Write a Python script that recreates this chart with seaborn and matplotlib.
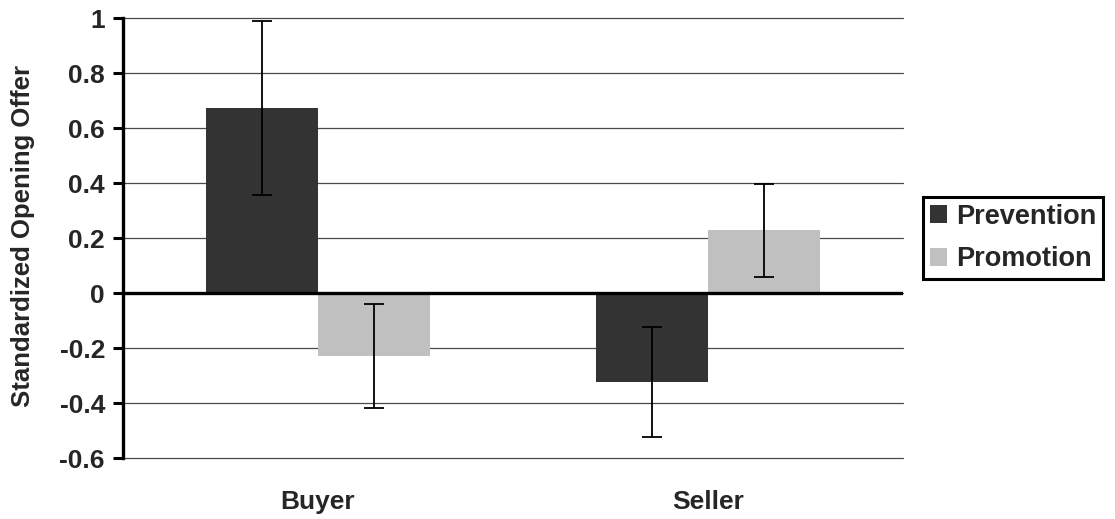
import matplotlib
matplotlib.use("Agg")
import matplotlib.pyplot as plt
import seaborn as sns
import pandas as pd
from matplotlib.ticker import FixedLocator, FuncFormatter

# ---- data ----
categories = ["Buyer", "Seller"]
conditions = ["Prevention", "Promotion"]
prevention_means = [0.673, -0.325]
promotion_means = [-0.228, 0.228]
prevention_err = [0.316, 0.200]
promotion_err = [0.189, 0.170]
y_ticks = [-0.6, -0.4, -0.2, 0, 0.2, 0.4, 0.6, 0.8, 1]
y_label = "Standardized Opening Offer"

sns.set_style("white")
plt.rcParams["font.family"] = ["Liberation Sans", "DejaVu Sans"]
plt.rcParams["font.weight"] = "bold"
plt.rcParams["axes.unicode_minus"] = False

df = pd.DataFrame({
    "role": categories * 2,
    "focus": [conditions[0]] * len(categories) + [conditions[1]] * len(categories),
    "value": prevention_means + promotion_means,
})
errs = {conditions[0]: prevention_err, conditions[1]: promotion_err}
palette = {conditions[0]: "#333333", conditions[1]: "#C0C0C0"}

fig = plt.figure(figsize=(11.15, 5.19), dpi=100)
ax = fig.add_axes([123 / 1115, 1 - 458 / 519, 780 / 1115, 440 / 519])

sns.barplot(data=df, x="role", y="value", hue="focus", hue_order=conditions,
            order=categories, palette=palette, saturation=1, width=0.574,
            errorbar=None, ax=ax, zorder=2, edgecolor="none", linewidth=0)

# error bars
for cont, cond in zip(ax.containers, conditions):
    for bar, e in zip(cont, errs[cond]):
        x = bar.get_x() + bar.get_width() / 2
        y = bar.get_y() + bar.get_height()
        ax.errorbar(x, y, yerr=e, fmt="none", ecolor="black", elinewidth=1.3,
                    capsize=7, capthick=1.3, zorder=4)

ax.set_xlim(-0.5, 1.5)
ax.set_ylim(-0.6, 1.0)
ax.yaxis.set_major_locator(FixedLocator(y_ticks))
ax.yaxis.set_major_formatter(FuncFormatter(lambda v, p: "0" if abs(v) < 1e-9 else f"{v:g}"))
ax.grid(axis="y", color="#4a4a4a", linewidth=0.9, zorder=0)
ax.set_axisbelow(True)
for gl in ax.get_ygridlines():
    gl.set_clip_on(False)
ax.axhline(0, color="black", linewidth=2.4, zorder=3)

for s in ["top", "right", "bottom"]:
    ax.spines[s].set_visible(False)
ax.spines["left"].set_linewidth(2.4)
ax.spines["left"].set_color("black")

ax.tick_params(axis="y", direction="out", length=7.5, width=2.2, color="black",
               labelsize=19, pad=5.5, left=True)
ax.tick_params(axis="x", length=0, labelsize=19, pad=23)
for lab in ax.get_xticklabels() + ax.get_yticklabels():
    lab.set_fontweight("bold")

ax.set_xlabel("")
ax.set_ylabel(y_label, fontsize=18.5, fontweight="bold")
ax.yaxis.set_label_coords(-0.113, 0.505)

handles, labels = ax.get_legend_handles_labels()
if ax.get_legend() is not None:
    ax.get_legend().remove()
leg = ax.legend(handles, labels, loc="center left",
                bbox_to_anchor=(923 / 1115, 1 - 238 / 519),
                bbox_transform=fig.transFigure, frameon=True, fancybox=False,
                edgecolor="black", prop={"size": 19.5, "weight": "bold"},
                handlelength=0.65, handleheight=0.65, handletextpad=0.35,
                labelspacing=0.62, borderpad=0.24, borderaxespad=0)
leg.get_frame().set_linewidth(2.2)
leg.get_frame().set_alpha(1)

fig.savefig("out.png", dpi=100)
